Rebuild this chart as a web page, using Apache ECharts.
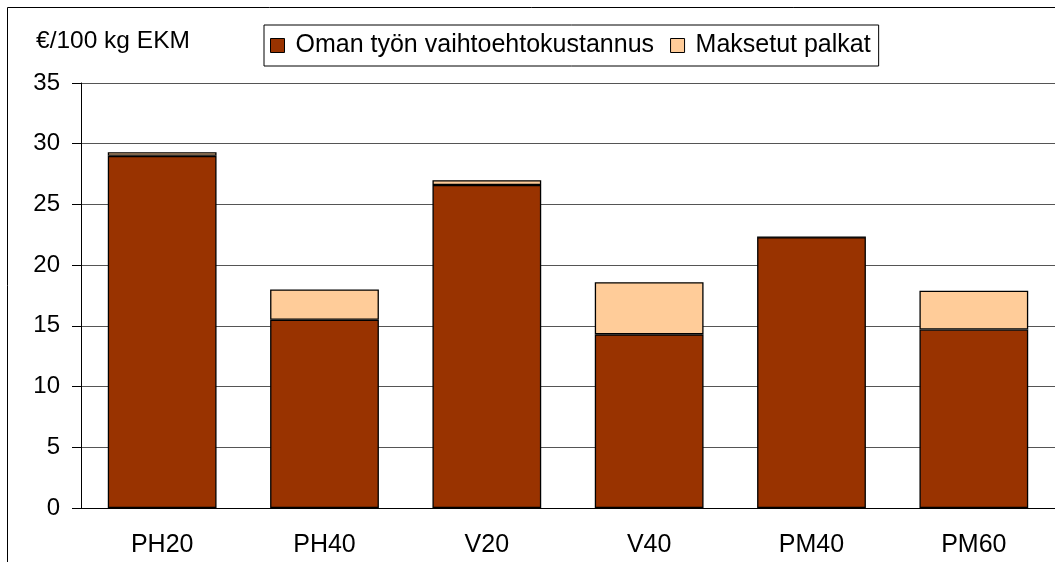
<!DOCTYPE html>
<html>
<head>
<meta charset="utf-8">
<script src="https://cdn.jsdelivr.net/npm/echarts@6/dist/echarts.min.js"></script>
<style>
  html, body { margin: 0; padding: 0; background: #fff; }
  #chart { width: 1055px; height: 562px; }
</style>
</head>
<body>
<div id="chart"></div>
<script>
const categories = ['PH20', 'PH40', 'V20', 'V40', 'PM40', 'PM60']
const omanTyo = [29.0, 15.5, 26.6, 14.3, 22.3, 14.7]
const maksetut = [0.3, 2.5, 0.4, 4.3, 0, 3.2]
const yTicks = { min: 0, max: 35, interval: 5 }

const font = 'Liberation Sans, Arial, sans-serif'

const chart = echarts.init(document.getElementById('chart'))

const option = {
  animation: false,
  backgroundColor: '#fff',
  textStyle: { fontFamily: font },
  graphic: [
    {
      type: 'polyline',
      shape: { points: [[7.5, 580], [7.5, 7.5], [1070, 7.5]] },
      style: { stroke: '#000', lineWidth: 1, fill: null }
    },
    {
      type: 'text',
      left: 36,
      top: 29,
      style: { text: '€/100 kg EKM', font: '24.5px ' + font, fill: '#000' }
    }
  ],
  legend: {
    left: 264,
    top: 25,
    itemWidth: 14,
    itemHeight: 14,
    itemGap: 16,
    padding: [8, 8, 8, 6],
    borderColor: '#000',
    borderWidth: 1,
    icon: 'rect',
    textStyle: { fontSize: 25, color: '#000', fontFamily: font, padding: [0, 0, 0, 6] },
    data: [
      { name: 'Oman työn vaihtoehtokustannus', itemStyle: { borderColor: '#000', borderWidth: 1 } },
      { name: 'Maksetut palkat', itemStyle: { borderColor: '#000', borderWidth: 1 } }
    ]
  },
  grid: { left: 81, right: -1, top: 83, bottom: 54, containLabel: false },
  xAxis: {
    type: 'category',
    data: categories,
    axisLine: { lineStyle: { color: '#000', width: 1 } },
    axisTick: { show: false },
    axisLabel: { fontSize: 25, color: '#000', margin: 25, fontFamily: font }
  },
  yAxis: {
    type: 'value',
    min: yTicks.min,
    max: yTicks.max,
    interval: yTicks.interval,
    axisLine: { show: true, lineStyle: { color: '#000', width: 1 } },
    axisTick: { show: true, length: 9, lineStyle: { color: '#000' } },
    axisLabel: { fontSize: 24, color: '#000', margin: 21, fontFamily: font },
    splitLine: { show: true, lineStyle: { color: '#555', width: 1 } }
  },
  series: [
    {
      name: 'Oman työn vaihtoehtokustannus',
      type: 'bar',
      stack: 'total',
      barWidth: '67%',
      data: omanTyo,
      itemStyle: { color: '#993300', borderColor: '#000', borderWidth: 1.3 }
    },
    {
      name: 'Maksetut palkat',
      type: 'bar',
      stack: 'total',
      barWidth: '67%',
      data: maksetut,
      itemStyle: { color: '#FFCC99', borderColor: '#000', borderWidth: 1.3 }
    }
  ]
}

chart.setOption(option)
</script>
</body>
</html>
